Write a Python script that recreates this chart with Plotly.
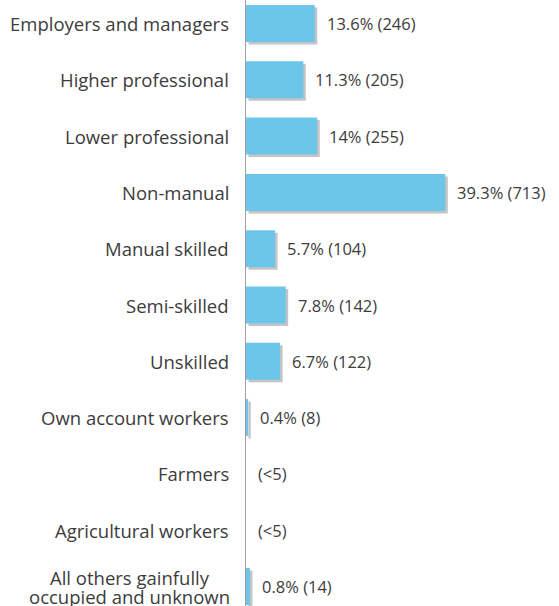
import plotly.graph_objects as go

categories = [
    "Employers and managers",
    "Higher professional",
    "Lower professional",
    "Non-manual",
    "Manual skilled",
    "Semi-skilled",
    "Unskilled",
    "Own account workers",
    "Farmers",
    "Agricultural workers",
    "All others gainfully<br>occupied and unknown",
]
counts = [246, 205, 255, 713, 104, 142, 122, 8, 0, 0, 14]
value_labels = [
    "13.6% (246)", "11.3% (205)", "14% (255)", "39.3% (713)", "5.7% (104)",
    "7.8% (142)", "6.7% (122)", "0.4% (8)", "(<5)", "(<5)", "0.8% (14)",
]

BAR_COLOR = "#6CC6EA"
SHADOW = "#C4C4C4"
TEXT = "#3c3c3c"
FONT = "Open Sans"
LABEL_SIZE = 18.5
VALUE_SIZE = 16.5

W, H = 559, 606
ML = 246
PX_PER_UNIT = 0.2795
XMAX = (W - ML) / PX_PER_UNIT
ROW = 56.3
FIRST_CENTER = 23.5
bar_w = 37 / ROW
dx = 2.5 / PX_PER_UNIT
dy = 2.5 / ROW

fig = go.Figure()
# soft shadow
fig.add_trace(go.Bar(
    y=categories, x=counts, base=dx, orientation="h",
    width=bar_w, offset=-bar_w / 2 + dy,
    marker=dict(color=SHADOW, line=dict(width=0)),
    hoverinfo="skip", showlegend=False,
))
fig.add_trace(go.Bar(
    y=categories, x=counts, orientation="h",
    width=bar_w, offset=-bar_w / 2,
    marker=dict(color=BAR_COLOR, line=dict(width=0)),
    showlegend=False,
))

for cat, c, lab in zip(categories, counts, value_labels):
    fig.add_annotation(
        x=c, y=cat, text=lab, showarrow=False, xanchor="left",
        xshift=10, font=dict(family=FONT, size=VALUE_SIZE, color=TEXT),
    )

# category labels (the two-line one is drawn line by line, roughly centred)
for cat in categories:
    lines = cat.split("<br>")
    if len(lines) == 1:
        fig.add_annotation(
            x=0, y=cat, text=cat, showarrow=False, xanchor="right",
            xshift=-15, font=dict(family=FONT, size=LABEL_SIZE, color=TEXT),
        )
    else:
        fig.add_annotation(
            x=0, y=cat, text=lines[0], showarrow=False, xanchor="right",
            xshift=-35, yshift=9.5, borderpad=0,
            font=dict(family=FONT, size=LABEL_SIZE, color=TEXT),
        )
        fig.add_annotation(
            x=0, y=cat, text=lines[1], showarrow=False, xanchor="right",
            xshift=-15, yshift=-9.5, borderpad=0,
            font=dict(family=FONT, size=LABEL_SIZE, color=TEXT),
        )

n = len(categories)
top = FIRST_CENTER / ROW
bottom = (n - 1) + (H - FIRST_CENTER - (n - 1) * ROW) / ROW
fig.update_layout(
    width=W, height=H,
    margin=dict(l=ML, r=0, t=0, b=0, autoexpand=False),
    paper_bgcolor="white", plot_bgcolor="white",
    barmode="overlay",
    xaxis=dict(range=[0, XMAX], visible=False, fixedrange=True, automargin=False),
    yaxis=dict(
        range=[bottom, -top],
        showline=True, linecolor="#a0a0a0", linewidth=1,
        showgrid=False, zeroline=False, ticks="",
        showticklabels=False, automargin=False, fixedrange=True,
    ),
    font=dict(family=FONT),
)

fig.write_html(
    "out.html",
    config={"displayModeBar": False},
    post_script="document.body.style.margin='0';document.body.style.overflow='hidden';",
)
